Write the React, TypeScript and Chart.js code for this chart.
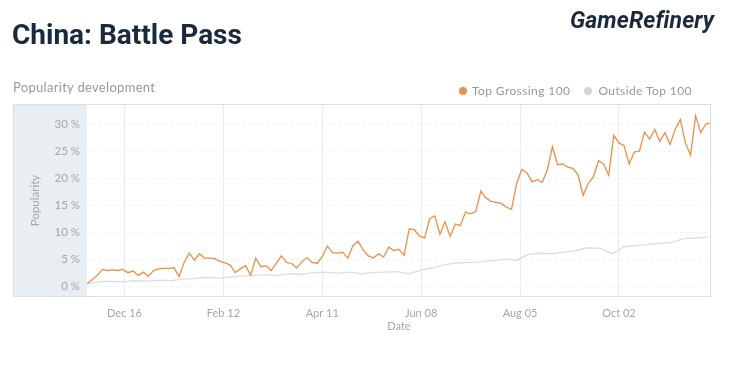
import React, { useEffect, useRef } from "react";
import { Chart, registerables } from "chart.js";

Chart.register(...registerables);

// x axis: days since Nov 24 (start of the series)
const X_MIN = 0;
const X_MAX = 366;
const TICK_DAYS = [22, 80, 138, 196, 254, 312];
const TICK_LABELS = ["Dec 16", "Feb 12", "Apr 11", "Jun 08", "Aug 05", "Oct 02"];
const Y_TICKS = [0, 5, 10, 15, 20, 25, 30];

// Top Grossing 100 — one reading every 3 days (popularity %)
const TOP_STEP = 3;
const TOP_VALUES = [
  0.5, 1.2, 2.0, 3.1, 2.9, 3.0, 2.9, 3.1, 2.5, 2.8,
  2.0, 2.6, 1.8, 2.9, 3.2, 3.3, 3.3, 3.4, 1.8, 4.4,
  6.1, 4.8, 6.0, 5.2, 5.2, 5.1, 4.6, 4.3, 3.9, 2.5,
  3.2, 3.8, 2.0, 5.2, 3.6, 3.8, 2.9, 4.2, 5.6, 4.4,
  4.2, 3.4, 4.5, 5.3, 4.4, 4.2, 5.5, 7.4, 6.2, 6.1,
  6.3, 5.2, 7.5, 8.3, 6.7, 5.6, 5.2, 6.0, 5.4, 7.2,
  6.6, 6.8, 5.7, 10.6, 10.4, 9.3, 8.9, 12.5, 13.0, 9.6,
  11.9, 9.2, 11.5, 11.2, 13.7, 13.4, 13.8, 17.6, 16.3, 15.7,
  15.5, 15.3, 14.6, 14.2, 19.0, 21.6, 21.0, 19.3, 19.7, 19.2,
  21.5, 25.8, 22.5, 22.6, 22.0, 21.8, 20.6, 16.8, 19.0, 20.2,
  23.2, 22.6, 20.5, 27.9, 26.5, 26.0, 22.6, 24.8, 25.0, 28.5,
  27.2, 29.0, 26.8, 28.4, 26.2, 29.0, 30.8, 26.5, 24.2, 31.5,
  28.4, 30.0, 30.2,
];

// Outside Top 100 — one reading every 7 days (popularity %)
const OUT_STEP = 7;
const OUT_VALUES = [
  0.5, 0.8, 0.9, 0.8, 1.0, 0.9, 1.1, 1.0, 1.3, 1.4,
  1.6, 1.5, 1.7, 1.9, 2.0, 2.1, 2.0, 2.3, 2.2, 2.5,
  2.6, 2.4, 2.6, 2.3, 2.5, 2.6, 2.7, 2.3, 3.0, 3.4,
  4.0, 4.3, 4.4, 4.5, 4.7, 5.0, 4.8, 5.9, 6.1, 6.0,
  6.3, 6.6, 7.1, 7.0, 6.0, 7.3, 7.5, 7.7, 7.9, 8.1,
  8.8, 8.9, 9.1,
];

const ORANGE = "#ec8f4a";
const GRAY_LINE = "#dcdfe2";
const TEXT_GRAY = "#a3a7ac";
const NAVY = "#1b2a3b";

const framePlugin = {
  id: "frame",
  beforeDraw(chart: any) {
    const { ctx, chartArea } = chart;
    const left = 13;
    ctx.save();
    ctx.fillStyle = "#e9eef2";
    ctx.fillRect(left, chartArea.top, chartArea.left - left, chartArea.bottom - chartArea.top);
    ctx.restore();
  },
  afterDraw(chart: any) {
    const { ctx, chartArea } = chart;
    const left = 13;
    ctx.save();
    ctx.strokeStyle = "#dadee2";
    ctx.lineWidth = 1;
    ctx.strokeRect(left + 0.5, chartArea.top + 0.5, chartArea.right - left - 1, chartArea.bottom - chartArea.top - 1);
    ctx.restore();
  },
};

export default function App() {
  const ref = useRef<HTMLCanvasElement | null>(null);

  useEffect(() => {
    if (!ref.current) return;
    const chart = new Chart(ref.current, {
      type: "line",
      data: {
        datasets: [
          {
            label: "Top Grossing 100",
            data: TOP_VALUES.map((v, i) => ({ x: i * TOP_STEP, y: v })),
            borderColor: ORANGE,
            borderWidth: 1.3,
            pointRadius: 0,
            tension: 0,
            order: 0,
          },
          {
            label: "Outside Top 100",
            data: OUT_VALUES.map((v, i) => ({ x: i * OUT_STEP, y: v })),
            borderColor: GRAY_LINE,
            borderWidth: 1.4,
            pointRadius: 0,
            tension: 0,
            order: 1,
          },
        ],
      },
      options: {
        animation: false,
        responsive: false,
        layout: { padding: { left: 13, right: 39, top: 104, bottom: 36 } },
        plugins: { legend: { display: false }, tooltip: { enabled: false } },
        scales: {
          x: {
            type: "linear",
            min: X_MIN,
            max: X_MAX,
            afterBuildTicks: (scale: any) => {
              scale.ticks = TICK_DAYS.map((v) => ({ value: v }));
            },
            afterFit: (scale: any) => {
              scale.height = 36;
            },
            ticks: {
              autoSkip: false,
              maxRotation: 0,
              padding: 10,
              color: TEXT_GRAY,
              font: { family: "Lato", size: 11 },
              callback: (value: any) => TICK_LABELS[TICK_DAYS.indexOf(Number(value))] ?? "",
            },
            grid: { color: "#e9ebed", drawTicks: false },
            border: { display: false },
            title: {
              display: true,
              text: "Date",
              color: TEXT_GRAY,
              font: { family: "Lato", size: 11 },
              padding: 0,
            },
          },
          y: {
            type: "linear",
            min: -2,
            max: 33.7,
            afterBuildTicks: (scale: any) => {
              scale.ticks = Y_TICKS.map((v) => ({ value: v }));
            },
            afterFit: (scale: any) => {
              scale.width = 74;
            },
            ticks: {
              padding: 7,
              color: TEXT_GRAY,
              font: { family: "Lato", size: 11.5 },
              callback: (value: any) => `${value} %`,
            },
            grid: { color: "#e8eaec", drawTicks: false },
            border: { display: false, dash: [2, 4] },
            title: {
              display: true,
              text: "Popularity",
              color: TEXT_GRAY,
              font: { family: "Lato", size: 11.5 },
              padding: { top: 15, bottom: 0 },
            },
          },
        },
      },
      plugins: [framePlugin],
    } as any);
    return () => chart.destroy();
  }, []);

  return (
    <div style={{ position: "absolute", left: 0, top: 0, width: 750, height: 369, background: "#fff", overflow: "hidden" }}>
      <canvas ref={ref} width={750} height={369} style={{ position: "absolute", left: 0, top: 0, display: "block" }} />
      <div
        style={{
          position: "absolute", left: 12, top: 21, fontFamily: "Roboto", fontWeight: 700,
          fontSize: 28, lineHeight: "28px", color: NAVY, letterSpacing: 0, whiteSpace: "nowrap",
        }}
      >
        China: Battle Pass
      </div>
      <div
        style={{
          position: "absolute", left: 570, top: 8, fontFamily: "Roboto", fontWeight: 700, fontStyle: "italic",
          fontSize: 23, lineHeight: "26px", color: NAVY, letterSpacing: 0.1, whiteSpace: "nowrap",
        }}
      >
        GameRefinery
      </div>
      <div
        style={{
          position: "absolute", left: 13, top: 80, fontFamily: "Lato", fontSize: 13, lineHeight: "14px",
          color: "#95999f", letterSpacing: 0.3, whiteSpace: "nowrap",
        }}
      >
        Popularity development
      </div>
      <div
        style={{
          position: "absolute", left: 459, top: 84, display: "flex", alignItems: "center",
          fontFamily: "Lato", fontSize: 12, lineHeight: "14px", color: "#95999f", letterSpacing: 0.4, whiteSpace: "nowrap",
        }}
      >
        <span style={{ width: 8, height: 8, borderRadius: 4, background: ORANGE, marginRight: 5, display: "inline-block" }} />
        <span style={{ marginRight: 14 }}>Top Grossing 100</span>
        <span style={{ width: 8, height: 8, borderRadius: 4, background: "#d3d6d9", marginRight: 6, display: "inline-block" }} />
        <span>Outside Top 100</span>
      </div>
    </div>
  );
}
